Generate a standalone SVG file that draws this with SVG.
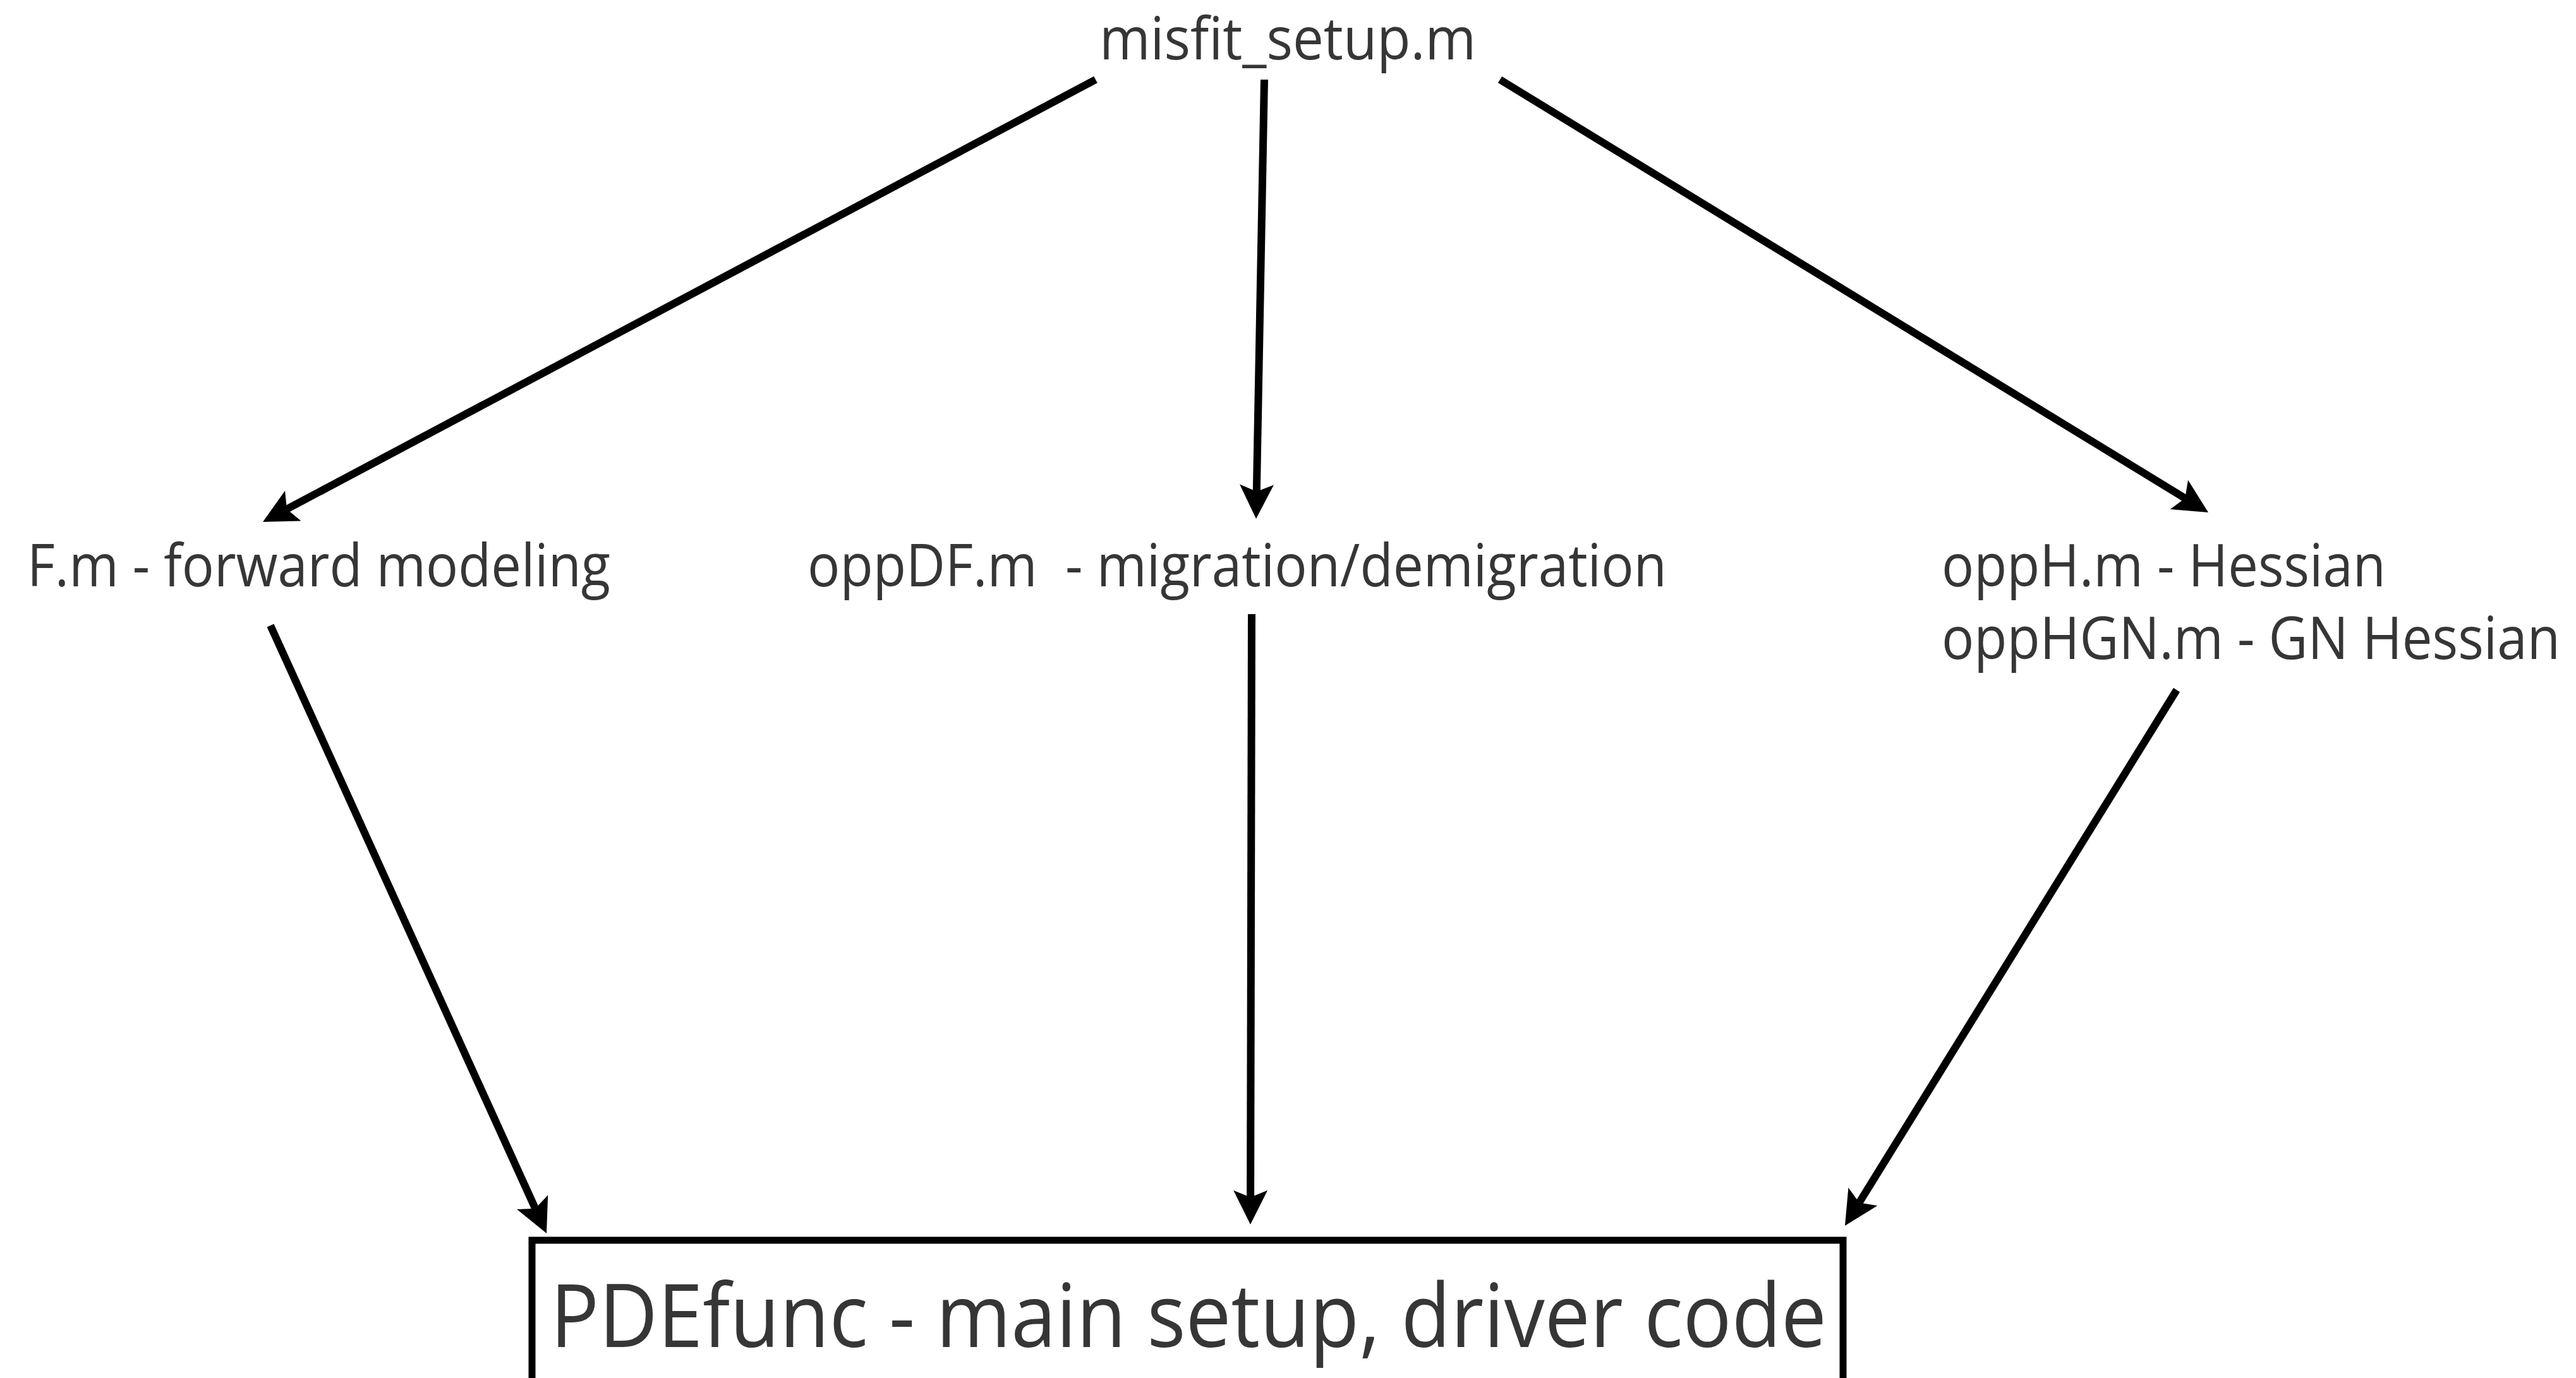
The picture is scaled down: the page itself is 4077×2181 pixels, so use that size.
<svg xmlns="http://www.w3.org/2000/svg" width="4077" height="2181" viewBox="0 0 4077 2181">
  <style>
    .lbl { font-family: "Open Sans", "Noto Sans", "Liberation Sans", sans-serif; font-size: 93px; fill: #363636; }
    .main { font-family: "Open Sans", "Noto Sans", "Liberation Sans", sans-serif; font-size: 140px; fill: #363636; }
    .edge { stroke: #000; stroke-width: 12; fill: none; marker-end: url(#head); }
    .box { fill: #fff; stroke: #000; stroke-width: 11; }
  </style>
  <defs>
    <marker id="head" markerUnits="userSpaceOnUse" markerWidth="120" markerHeight="120" viewBox="-60 -60 120 120" refX="0" refY="0" orient="auto" overflow="visible">
      <path d="M43,0 L-11,-27 L0,0 L-11,27 Z" fill="#000"/>
    </marker>
  </defs>
  <rect width="4077" height="2181" fill="#fff"/>

  <g id="connectors">
    <line class="edge" x1="1734" y1="126" x2="454" y2="805.8"/>
    <line class="edge" x1="2001" y1="126" x2="1988.8" y2="778"/>
    <line class="edge" x1="2374" y1="126" x2="3458.3" y2="788.6"/>
    <line class="edge" x1="428" y1="990" x2="847.2" y2="1912.8"/>
    <line class="edge" x1="1981" y1="972" x2="1979.1" y2="1895"/>
    <line class="edge" x1="3445" y1="1092" x2="2942.6" y2="1903.4"/>
  </g>

  <g id="misfit_setup">
    <text class="lbl" x="1740" y="94" textLength="596" lengthAdjust="spacingAndGlyphs">misfit_setup.m</text>
  </g>

  <g id="forward_modeling">
    <text class="lbl" x="43" y="928" textLength="923" lengthAdjust="spacingAndGlyphs">F.m - forward modeling</text>
  </g>

  <g id="migration">
    <text class="lbl" x="1278" y="928" textLength="1360" lengthAdjust="spacingAndGlyphs" xml:space="preserve">oppDF.m  - migration/demigration</text>
  </g>

  <g id="hessian">
    <text class="lbl" x="3073" y="928" textLength="703" lengthAdjust="spacingAndGlyphs">oppH.m - Hessian</text>
    <text class="lbl" x="3073" y="1043" textLength="979" lengthAdjust="spacingAndGlyphs">oppHGN.m - GN Hessian</text>
  </g>

  <g id="pdefunc">
    <rect class="box" x="842" y="1963" width="2075" height="260"/>
    <text class="main" x="871" y="2132" textLength="2020" lengthAdjust="spacingAndGlyphs">PDEfunc - main setup, driver code</text>
  </g>
</svg>
